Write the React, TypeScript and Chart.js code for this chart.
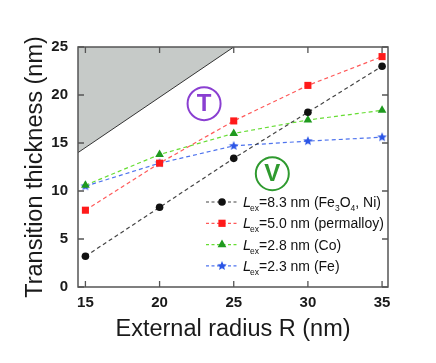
import React, { useEffect, useRef } from "react";
import { Chart, registerables } from "chart.js";
Chart.register(...registerables);

// ---- data ----
const radii = [15, 20, 25, 30, 35];
const thick83 = [3.2, 8.3, 13.4, 18.2, 23.0];
const thick50 = [8.0, 12.9, 17.3, 21.0, 24.0];
const thick28 = [10.6, 13.8, 16.0, 17.4, 18.4];
const thick23 = [10.5, 12.9, 14.7, 15.2, 15.6];
const lexValues = ["8.3", "5.0", "2.8", "2.3"];
const materials = ["(Fe|3|O|4|, Ni)", "(permalloy)", "(Co)", "(Fe)"];
const boundaryX = [14.5, 25];
const boundaryY = [14, 25];
const xTickValues = [15, 20, 25, 30, 35];
const yTickValues = [0, 5, 10, 15, 20, 25];
const regionLabels = ["T", "V"];
const regionAt = [
  [23.0, 19.1],
  [27.6, 11.8],
];

const FONT = "'Liberation Sans', Arial, sans-serif";
const markerColors = ["#111111", "#ff1a1a", "#1f9a1f", "#2b55e6"];
const lineColors = ["#444444", "#ff5a5a", "#66dd33", "#4f74ee"];
const regionColors = ["#8a3fd1", "#2f9a2f"];

function makeStar(color: string, r: number) {
  const c = document.createElement("canvas");
  const s = Math.ceil(2 * r + 2);
  c.width = s;
  c.height = s;
  const g = c.getContext("2d")!;
  g.fillStyle = color;
  g.beginPath();
  for (let i = 0; i < 10; i++) {
    const rr = i % 2 === 0 ? r : r * 0.45;
    const a = -Math.PI / 2 + (i * Math.PI) / 5;
    const x = s / 2 + rr * Math.cos(a);
    const y = s / 2 + rr * Math.sin(a);
    if (i === 0) g.moveTo(x, y);
    else g.lineTo(x, y);
  }
  g.closePath();
  g.fill();
  return c;
}

function pts(ys: number[]) {
  return radii.map((x, i) => ({ x, y: ys[i] }));
}

export default function App() {
  const ref = useRef<HTMLCanvasElement | null>(null);
  useEffect(() => {
    const star = makeStar(markerColors[3], 5);
    const styles: any[] = ["circle", "rect", "triangle", star];
    const radiiPt = [3.8, 5, 5, 5];
    const series = [thick83, thick50, thick28, thick23];

    const datasets: any[] = series.map((ys, i) => ({
      data: pts(ys),
      borderColor: lineColors[i],
      borderWidth: 1.2,
      borderDash: [4, 3],
      backgroundColor: markerColors[i],
      pointBackgroundColor: markerColors[i],
      pointBorderColor: markerColors[i],
      pointBorderWidth: 0,
      pointStyle: styles[i],
      pointRadius: radiiPt[i],
      fill: false,
      tension: 0,
    }));
    datasets.push({
      data: boundaryX.map((x, i) => ({ x, y: boundaryY[i] })),
      borderColor: "#333333",
      borderWidth: 1,
      backgroundColor: "#c6cac8",
      pointRadius: 0,
      fill: "end",
      tension: 0,
    });

    const overlay = {
      id: "overlay",
      afterDraw(chart: any) {
        const { ctx, chartArea: a, scales } = chart;
        const xs = scales.x;
        const ys = scales.y;
        ctx.save();
        // frame
        ctx.strokeStyle = "#555";
        ctx.lineWidth = 1.5;
        ctx.strokeRect(a.left, a.top, a.right - a.left, a.bottom - a.top);
        // inward ticks
        ctx.lineWidth = 1.3;
        const tl = 6;
        xTickValues.forEach((v) => {
          const px = xs.getPixelForValue(v);
          ctx.beginPath();
          ctx.moveTo(px, a.bottom);
          ctx.lineTo(px, a.bottom - tl);
          ctx.moveTo(px, a.top);
          ctx.lineTo(px, a.top + tl);
          ctx.stroke();
        });
        yTickValues.forEach((v) => {
          const py = ys.getPixelForValue(v);
          ctx.beginPath();
          ctx.moveTo(a.left, py);
          ctx.lineTo(a.left + tl, py);
          ctx.moveTo(a.right, py);
          ctx.lineTo(a.right - tl, py);
          ctx.stroke();
        });
        // region labels
        regionLabels.forEach((t, i) => {
          const cx = xs.getPixelForValue(regionAt[i][0]);
          const cy = ys.getPixelForValue(regionAt[i][1]);
          ctx.strokeStyle = regionColors[i];
          ctx.lineWidth = 2;
          ctx.beginPath();
          ctx.arc(cx, cy, 16.5, 0, Math.PI * 2);
          ctx.stroke();
          ctx.fillStyle = regionColors[i];
          ctx.font = `bold 24px ${FONT}`;
          ctx.textAlign = "center";
          ctx.textBaseline = "middle";
          ctx.fillText(t, cx, cy + 1);
        });
        // legend
        const x0 = a.right - 182;
        const y0 = a.top + 155;
        const rowH = 21.3;
        for (let i = 0; i < 4; i++) {
          const y = y0 + i * rowH;
          ctx.strokeStyle = lineColors[i];
          ctx.lineWidth = 1.2;
          ctx.setLineDash([3, 2.5]);
          ctx.beginPath();
          ctx.moveTo(x0, y);
          ctx.lineTo(x0 + 32, y);
          ctx.stroke();
          ctx.setLineDash([]);
          const mx = x0 + 16;
          ctx.fillStyle = markerColors[i];
          if (i === 0) {
            ctx.beginPath();
            ctx.arc(mx, y, 3.8, 0, Math.PI * 2);
            ctx.fill();
          } else if (i === 1) {
            ctx.fillRect(mx - 3.6, y - 3.6, 7.2, 7.2);
          } else if (i === 2) {
            ctx.beginPath();
            ctx.moveTo(mx, y - 5);
            ctx.lineTo(mx + 4.4, y + 2.6);
            ctx.lineTo(mx - 4.4, y + 2.6);
            ctx.closePath();
            ctx.fill();
          } else {
            ctx.drawImage(star, mx - star.width / 2, y - star.height / 2);
          }
          // text
          let tx = x0 + 37;
          const base = y + 5;
          ctx.fillStyle = "#111";
          ctx.textAlign = "left";
          ctx.textBaseline = "alphabetic";
          ctx.font = `italic 14.5px ${FONT}`;
          ctx.fillText("L", tx, base);
          tx += ctx.measureText("L").width;
          ctx.font = `8.5px ${FONT}`;
          ctx.fillText("ex", tx - 1, base + 4);
          tx += ctx.measureText("ex").width - 1;
          const parts = ("=" + lexValues[i] + " nm " + materials[i]).split("|");
          parts.forEach((p, k) => {
            const sub = k % 2 === 1;
            ctx.font = sub ? `8.5px ${FONT}` : `14px ${FONT}`;
            ctx.fillText(p, tx, sub ? base + 4 : base);
            tx += ctx.measureText(p).width;
          });
        }
        ctx.restore();
      },
    };

    const chart = new Chart(ref.current!, {
      type: "line",
      data: { datasets },
      options: {
        animation: false,
        responsive: false,
        events: [],
        layout: { padding: { left: 0, top: 47, right: 48, bottom: 0 } },
        plugins: { legend: { display: false }, tooltip: { enabled: false } },
        scales: {
          x: {
            type: "linear",
            min: 14.5,
            max: 35.4,
            afterBuildTicks: (s: any) => {
              s.ticks = xTickValues.map((v) => ({ value: v }));
            },
            afterFit: (s: any) => {
              s.height = 76;
            },
            grid: { display: false, drawTicks: false },
            border: { display: false },
            ticks: {
              color: "#1a1a1a",
              font: { family: FONT, size: 15, weight: "bold" },
              padding: 7,
              maxRotation: 0,
            },
            title: {
              display: true,
              text: "External radius R (nm)",
              color: "#1a1a1a",
              font: { family: FONT, size: 23.5 },
              padding: { top: 0, bottom: 19 },
            },
          },
          y: {
            type: "linear",
            min: 0,
            max: 25,
            afterBuildTicks: (s: any) => {
              s.ticks = yTickValues.map((v) => ({ value: v }));
            },
            afterFit: (s: any) => {
              s.width = 78;
            },
            grid: { display: false, drawTicks: false },
            border: { display: false },
            ticks: {
              color: "#1a1a1a",
              font: { family: FONT, size: 15, weight: "bold" },
              padding: 10,
            },
            title: {
              display: true,
              text: "Transition thickness (nm)",
              color: "#1a1a1a",
              font: { family: FONT, size: 23.5 },
              padding: { top: 21, bottom: 0 },
            },
          },
        },
      },
      plugins: [overlay],
    } as any);
    return () => chart.destroy();
  }, []);
  return (
    <div style={{ position: "fixed", left: 0, top: 0, width: 436, height: 363, background: "#fff" }}>
      <canvas ref={ref} width={436} height={363} style={{ display: "block" }} />
    </div>
  );
}
